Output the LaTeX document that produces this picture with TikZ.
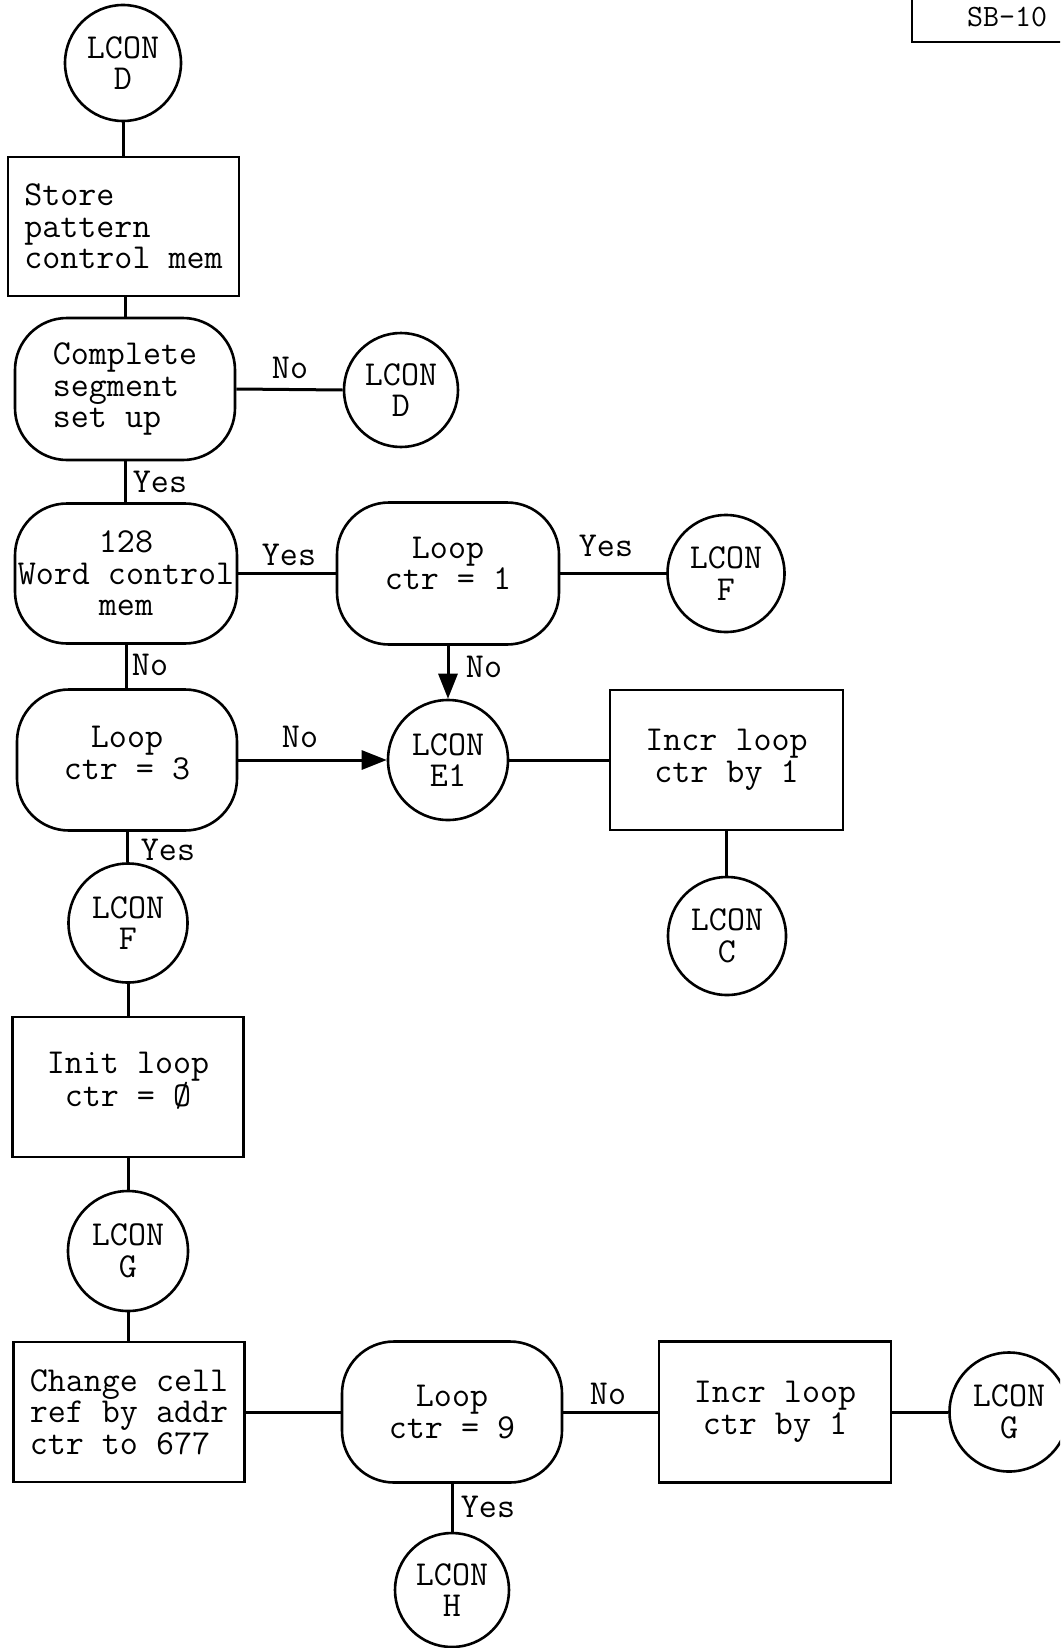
\documentclass[tikz,border=0pt]{standalone}
\usetikzlibrary{arrows.meta}
\begin{document}
\begin{tikzpicture}[x=1pt,y=-1pt,
  every node/.style={font=\fontsize{35}{31.5}\selectfont\ttfamily, inner sep=0pt},
  conn/.style={circle, draw, line width=2.6pt, align=center},
  procbox/.style={rectangle, draw, line width=2.6pt},
  decbox/.style={rectangle, rounded corners=52pt, draw, line width=2.6pt, align=center},
  link/.style={line width=3pt},
  arr/.style={line width=3pt, -{Triangle[length=25pt,width=19pt]}},
  lbl/.style={anchor=center},
  shifted/.style={font=\fontsize{35}{31.5}\selectfont\ttfamily, align=center}]
\clip (0,0) rectangle (1060,1648);
% header box
\coordinate (sbtop) at (912,-5);
\coordinate (sbcorner) at (912,42);
\coordinate (sbright) at (1065,42);
\draw[line width=2.4pt] (sbtop) -- (sbcorner) -- (sbright);
\node[anchor=base west, font=\fontsize{31}{31}\selectfont\ttfamily] (sb) at (967,27) {SB-10};
% nodes
\node[conn, minimum size=116pt] (d1) at (123,63) {LCON\\D};
\node[procbox, align=left, minimum width=231pt, minimum height=139pt] (store) at (123.5,226.5) {Store\\pattern\\control mem};
\node[decbox, align=left, minimum width=220pt, minimum height=142pt] (seg) at (125,389) {Complete\\segment\\set up};
\node[conn, minimum size=114pt] (d2) at (401,390) {LCON\\D};
\node[decbox, minimum width=222pt, minimum height=140pt] (w128) at (126,573.5) {128\\Word control\\mem};
\node[decbox, minimum width=222pt, minimum height=142pt,
      label={[shifted, yshift=10pt]center:{Loop\\ctr = 1}}] (loop1) at (448,573.5) {};
\node[conn, minimum size=117pt] (f1) at (726,573.5) {LCON\\F};
\node[decbox, minimum width=220pt, minimum height=141pt,
      label={[shifted, yshift=7pt]center:{Loop\\ctr = 3}}] (loop3) at (127,760) {};
\node[conn, minimum size=120pt] (e1) at (448,760) {LCON\\E1};
\node[procbox, align=center, minimum width=233pt, minimum height=140pt] (incr1) at (726.5,760) {Incr loop\\ctr by 1};
\node[conn, minimum size=118pt] (cc) at (727,936) {LCON\\C};
\node[conn, minimum size=119pt] (f2) at (128,923) {LCON\\F};
\node[procbox, minimum width=231pt, minimum height=140pt,
      label={[shifted, yshift=6pt]center:{Init loop\\ctr = Ø}}] (init) at (128,1087) {};
\node[conn, minimum size=120pt] (g1) at (128,1251) {LCON\\G};
\node[procbox, align=left, minimum width=231pt, minimum height=140pt] (change) at (129,1412) {Change cell\\ref by addr\\ctr to 677};
\node[decbox, minimum width=220pt, minimum height=141pt] (loop9) at (452,1412) {Loop\\ctr = 9};
\node[procbox, align=center, minimum width=232pt, minimum height=141pt] (incr2) at (775,1412) {Incr loop\\ctr by 1};
\node[conn, minimum size=119pt] (g2) at (1009,1412) {LCON\\G};
\node[conn, minimum size=114pt] (h) at (452,1590) {LCON\\H};
% connectors
\draw[link] (d1.south) -- (d1.south |- store.north);
\draw[link] (seg.north |- store.south) -- (seg.north);
\draw[link] (seg.east) -- (d2.west);
\draw[link] (seg.south) -- (seg.south |- w128.north);
\draw[link] (w128.east) -- (loop1.west);
\draw[link] (loop1.east) -- (f1.west);
\draw[arr] (loop1.south) -- (e1.north);
\draw[link] (w128.south) -- (w128.south |- loop3.north);
\draw[arr] (loop3.east) -- (e1.west);
\draw[link] (e1.east) -- (incr1.west);
\draw[link] (incr1.south) -- (incr1.south |- cc.north);
\draw[link] (loop3.south) -- (loop3.south |- f2.north);
\draw[link] (f2.south) -- (f2.south |- init.north);
\draw[link] (init.south) -- (init.south |- g1.north);
\draw[link] (g1.south) -- (g1.south |- change.north);
\draw[link] (change.east) -- (loop9.west);
\draw[link] (loop9.east) -- (incr2.west);
\draw[link] (incr2.east) -- (g2.west);
\draw[link] (loop9.south) -- (loop9.south |- h.north);
% branch labels
\node[lbl] (lno1) at (290,368) {No};
\node[lbl] (lyes1) at (160,482) {Yes};
\node[lbl] (lyes2) at (289,555) {Yes};
\node[lbl] (lyes3) at (606,546) {Yes};
\node[lbl] (lno2) at (484,667) {No};
\node[lbl] (lno3) at (150,665) {No};
\node[lbl] (lno4) at (300,737) {No};
\node[lbl] (lyes4) at (168,850) {Yes};
\node[lbl] (lno5) at (608,1394) {No};
\node[lbl] (lyes5) at (488,1507) {Yes};
\end{tikzpicture}
\end{document}
